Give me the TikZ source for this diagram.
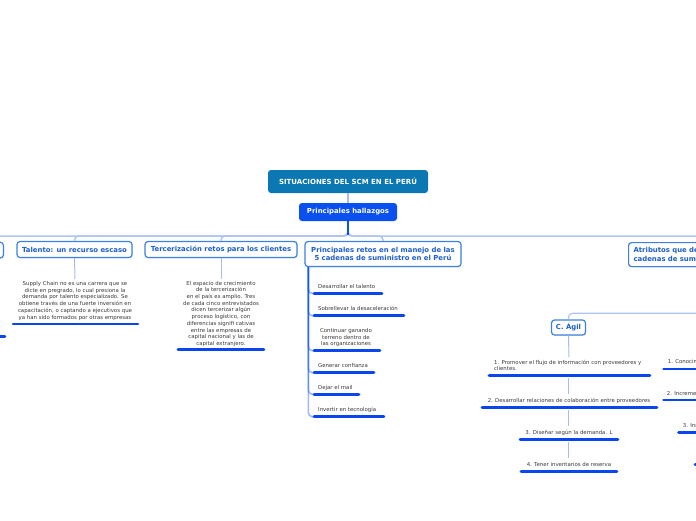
\documentclass[tikz,border=0pt]{standalone}
\usepackage{fontspec}
\setmainfont{DejaVu Sans}
\usetikzlibrary{calc,shadows}
\definecolor{rootc}{HTML}{0B78B4}
\definecolor{hallc}{HTML}{0A50F0}
\definecolor{bord}{HTML}{3B82E0}
\definecolor{ntext}{HTML}{1D5FCC}
\definecolor{ubarc}{HTML}{0A46F0}
\definecolor{conn}{HTML}{B0C4F4}
\definecolor{thinc}{HTML}{A8BCF0}
\definecolor{bodyc}{HTML}{3A3A3A}
\tikzset{
  rootbox/.style={fill=rootc, rounded corners=3pt, text=white, font=\bfseries\fontsize{7}{8}\selectfont, minimum width=160pt, minimum height=23pt, inner sep=0pt},
  hallbox/.style={fill=hallc, rounded corners=3pt, text=white, font=\bfseries\fontsize{6.9}{8}\selectfont, minimum width=98pt, minimum height=18pt, inner sep=0pt},
  topic/.style={draw=bord, line width=1.2pt, fill=white, rounded corners=3pt, text=ntext, font=\bfseries\fontsize{6.9}{8.6}\selectfont, inner sep=0pt, align=center, drop shadow={shadow xshift=0.7pt, shadow yshift=-0.9pt, opacity=0.2}},
  para/.style={text=bodyc, font=\fontsize{5.4}{6.75}\selectfont, align=center, inner sep=0pt, anchor=north},
  item/.style={text=bodyc, font=\fontsize{5.4}{6.5}\selectfont, inner sep=0pt},
  ubar/.style={draw=ubarc, line width=2.6pt, line cap=round},
  link/.style={draw=conn, line width=1.5pt, rounded corners=4pt},
  sublink/.style={draw=hallc, draw opacity=0.4, line width=1.6pt, rounded corners=4pt},
  thinlink/.style={draw=thinc, line width=1pt},
}
\begin{document}
\begin{tikzpicture}[x=1pt,y=-1pt]
\path[use as bounding box] (0,0) rectangle (696,520);
\fill[white] (0,0) rectangle (696,520);
\clip (0,0) rectangle (696,520);

% top nodes
\node[rootbox] (root) at (348,181.5) {SITUACIONES DEL SCM EN EL PERÚ};
\node[hallbox] (hall) at (348,212) {Principales hallazgos};
\draw[thinlink, line width=1.2pt] (root.south) -- (hall.north);

% second level nodes
\node[topic, anchor=north east, minimum width=100pt, minimum height=15.6pt] (lft) at (4,241.7) {};
\node[topic, minimum width=115pt, minimum height=16pt] (tal) at (74.5,249.5) {Talento: un recurso escaso};
\node[topic, minimum width=152pt, minimum height=16pt] (ter) at (221,249.5) {Tercerización retos para los clientes};
\node[topic, minimum width=156pt, minimum height=25pt] (ret) at (383,254) {Principales retos en el manejo de las\\5 cadenas de suministro en el Perú};
\node[topic, anchor=north west, minimum height=24pt, text width=140pt, align=left, inner xsep=5pt] (atr) at (628,242) {Atributos que deben tener las\\cadenas de suministro};

% connectors from Principales hallazgos
\coordinate (bus) at (348,236);
\draw[link] (hall.south) -- (bus) -| (lft.north);
\draw[link] (hall.south) -- (bus) -| (tal.north);
\draw[link] (hall.south) -- (bus) -| (ter.north);
\draw[link] (hall.south) -- (bus) -| (ret.north);
\draw[link] (hall.south) -- (bus) -| (atr.north);
\draw[draw=hallc, line width=1.4pt] (hall.south) -- ($(bus)+(0,-1)$);

% left cut-off branch
\coordinate (l1a) at (-20,336.7);
\coordinate (l1b) at (5,336.7);
\draw[ubar] (l1a) -- (l1b);

% Talento branch
\node[para] (talp) at (75,281) {Supply Chain no es una carrera que se\\dicte en pregrado, lo cual presiona la\\demanda por talento especializado. Se\\obtiene través de una fuerte inversión en\\capacitación, o captando a ejecutivos que\\ya han sido formados por otras empresas};
\draw[thinlink] (tal.south) -- ($(talp.north)+(0,-2)$);
\coordinate (t1a) at (13,323.8);
\coordinate (t1b) at (138,323.8);
\draw[ubar] (t1a) -- (t1b);

% Tercerizacion branch
\node[para, font=\fontsize{5.4}{6.67}\selectfont] (terp) at (221,281) {El espacio de crecimiento\\de la tercerización\\en el país es amplio. Tres\\de cada cinco entrevistados\\dicen tercerizar algún\\proceso logístico, con\\diferencias signifi cativas\\entre las empresas de\\capital nacional y las de\\capital extranjero.};
\draw[thinlink] (ter.south) -- ($(terp.north)+(0,-2)$);
\coordinate (e1a) at (178,349.3);
\coordinate (e1b) at (264,349.3);
\draw[ubar] (e1a) -- (e1b);

% Principales retos branch
\coordinate (rs) at ($(ret.south west)+(4,0)$);
\node[item, anchor=base west] (r1) at (318,288.9) {Desarrollar el talento};
\node[item, anchor=base west] (r2) at (318,310.9) {Sobrellevar la desaceleración};
\node[item, align=center, anchor=north] (r3) at (346,328.4) {Continuar ganando\\terreno dentro de\\las organizaciones};
\node[item, anchor=base west] (r4) at (318,367.9) {Generar confianza};
\node[item, anchor=base west] (r5) at (318,389.6) {Dejar el mail};
\node[item, anchor=base west] (r6) at (318,411.9) {Invertir en tecnología};
\coordinate (u1a) at (314,293.5); \coordinate (u1b) at (382,293.5);
\coordinate (u2a) at (314,315.7); \coordinate (u2b) at (404,315.7);
\coordinate (u3a) at (314,350.7); \coordinate (u3b) at (380,350.7);
\coordinate (u4a) at (314,372.7); \coordinate (u4b) at (374,372.7);
\coordinate (u5a) at (314,394.3); \coordinate (u5b) at (359,394.3);
\coordinate (u6a) at (314,416.7); \coordinate (u6b) at (384,416.7);
\foreach \k in {1,...,6}{\draw[sublink] (rs) |- (u\k a);}
\foreach \k in {1,...,6}{\draw[ubar] (u\k a) -- (u\k b);}

% C. Agil branch
\coordinate (agpar) at (740,313.3);
\node[topic, minimum width=34pt, minimum height=15pt] (agil) at (568.5,327.5) {C. Ágil};
\draw[link, line width=1.2pt] (agpar) -| (agil.north);
\node[item, align=left, anchor=north west, font=\fontsize{5.4}{6}\selectfont] (c1) at (494,360) {1. Promover el flujo de información con proveedores y\\clientes.};
\node[item, anchor=base] (c2) at (569,402.2) {2. Desarrollar relaciones de colaboración entre proveedores};
\node[item, anchor=base] (c3) at (569,434.2) {3. Diseñar según la demanda. L};
\node[item, anchor=base] (c4) at (569,466.6) {4. Tener inventarios de reserva};
\coordinate (a1a) at (489,375.3); \coordinate (a1b) at (650,375.3);
\coordinate (a2a) at (482,407.3); \coordinate (a2b) at (657,407.3);
\coordinate (a3a) at (520,439.3); \coordinate (a3b) at (618,439.3);
\coordinate (a4a) at (521,471.7); \coordinate (a4b) at (617,471.7);
\draw[thinlink] (agil.south) -- (569,357);
\draw[thinlink] ($(agil.south |- a1a)+(0,3)$) -- ($(agil.south |- c2.north)+(0,-4)$);
\draw[thinlink] ($(agil.south |- a2a)+(0,3)$) -- ($(agil.south |- c3.north)+(0,-4)$);
\draw[thinlink] ($(agil.south |- a3a)+(0,3)$) -- ($(agil.south |- c4.north)+(0,-4)$);
\foreach \k in {1,...,4}{\draw[ubar] (a\k a) -- (a\k b);}

% right partial column
\node[item, anchor=base west] (b1) at (667.7,363.6) {1. Conocimiento del cliente};
\node[item, anchor=base west] (b2) at (666.7,395) {2. Incremento de la visibilidad};
\node[item, anchor=base west] (b3) at (682.7,427.2) {3. Innovación};
\coordinate (b1a) at (663.5,369); \coordinate (b1b) at (720,369);
\coordinate (b2a) at (663.5,400); \coordinate (b2b) at (720,400);
\coordinate (b3a) at (678.5,432.3); \coordinate (b3b) at (720,432.3);
\coordinate (b4a) at (695,464.3); \coordinate (b4b) at (720,464.3);
\foreach \k in {1,...,4}{\draw[ubar] (b\k a) -- (b\k b);}
\end{tikzpicture}
\end{document}
